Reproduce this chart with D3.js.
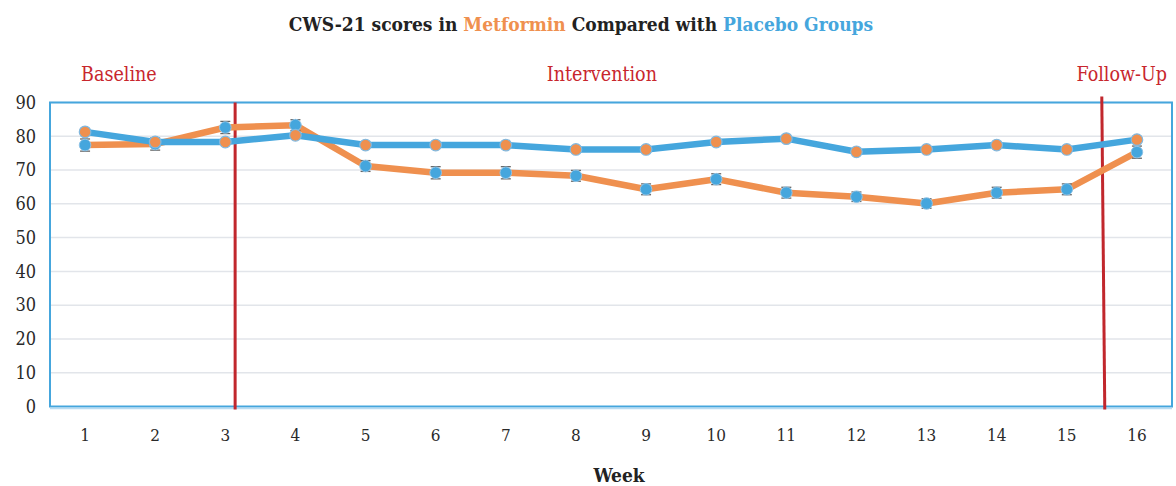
<!DOCTYPE html>
<html>
<head>
<meta charset="utf-8">
<script src="https://cdn.jsdelivr.net/npm/d3@7"></script>
<style>
  html, body { margin: 0; padding: 0; background: #fff; }
  svg { display: block; }
</style>
</head>
<body>
<svg id="chart" width="1176" height="486"></svg>
<script>
// Weeks on the x axis
const weeks = [1, 2, 3, 4, 5, 6, 7, 8, 9, 10, 11, 12, 13, 14, 15, 16];
// CWS-21 mean scores per week
const placebo   = [81.3, 78.3, 78.3, 80.3, 77.4, 77.4, 77.4, 76.1, 76.1, 78.3, 79.3, 75.4, 76.1, 77.4, 76.1, 79.0];
const metformin = [77.4, 77.7, 82.6, 83.3, 71.2, 69.2, 69.2, 68.3, 64.3, 67.3, 63.3, 62.1, 60.1, 63.3, 64.3, 75.3];
// Error (± score units) for the metformin group
const metforminErr = [1.8, 1.8, 1.8, 1.6, 1.6, 1.8, 1.8, 1.6, 1.6, 1.6, 1.6, 1.4, 1.4, 1.6, 1.6, 1.8];
const yTicks = [0, 10, 20, 30, 40, 50, 60, 70, 80, 90];
// Study phase labels and the week positions of the phase boundaries
const phases = [
  { label: "Baseline", week: 1, anchor: "start" },
  { label: "Intervention", week: 8.37, anchor: "middle" },
  { label: "Follow-Up", week: 16.3, anchor: "end" }
];
const boundaries = [3.14, 15.52];

const ORANGE = "#ef904f";
const BLUE = "#45a6dd";
const RED = "#c1272d";
const SERIF = "'DejaVu Serif Condensed', 'Liberation Serif', serif";

const svg = d3.select("#chart");
const plotLeft = 50, plotRight = 1172, plotTop = 102.5, plotBottom = 406.5;

const x = d3.scaleBand().domain(weeks).range([plotLeft, plotRight]).padding(0);
const cx = w => x(w) + x.bandwidth() / 2;
const xc = d3.scaleLinear().domain([1, 16]).range([cx(1), cx(16)]);
const y = d3.scaleLinear().domain([0, 90]).range([plotBottom, plotTop]);

// Title with coloured group names
const title = svg.append("text")
  .attr("x", 581).attr("y", 31)
  .attr("text-anchor", "middle")
  .style("font-family", SERIF)
  .style("font-weight", "bold")
  .style("font-size", "19px")
  .attr("fill", "#222");
title.append("tspan").text("CWS-21 scores in ");
title.append("tspan").attr("fill", ORANGE).text("Metformin");
title.append("tspan").text(" Compared with ");
title.append("tspan").attr("fill", BLUE).text("Placebo Groups");

// Phase labels
svg.selectAll("text.phase").data(phases).enter().append("text")
  .attr("class", "phase")
  .attr("x", d => d.anchor === "start" ? xc(d.week) - 4 : d.anchor === "end" ? xc(d.week) + 9 : xc(d.week))
  .attr("y", 81)
  .attr("text-anchor", d => d.anchor)
  .style("font-family", SERIF)
  .style("font-size", "19.5px")
  .attr("fill", "#c8262d")
  .text(d => d.label);

// Horizontal gridlines
svg.append("g").selectAll("line").data(yTicks.slice(1)).enter().append("line")
  .attr("x1", plotLeft).attr("x2", plotRight)
  .attr("y1", d => y(d)).attr("y2", d => y(d))
  .attr("stroke", "#e2e5ea").attr("stroke-width", 1.5);

// Y axis
const yAxis = svg.append("g")
  .attr("transform", `translate(${plotLeft},0)`)
  .call(d3.axisLeft(y).tickValues(yTicks).tickSize(0).tickPadding(14));
yAxis.select(".domain").remove();
yAxis.selectAll("text")
  .style("font-family", SERIF).style("font-size", "18px").attr("fill", "#2a2a2a");

// X axis labels
const xAxis = svg.append("g")
  .attr("transform", `translate(0,${plotBottom})`)
  .call(d3.axisBottom(x).tickSize(0).tickPadding(22));
xAxis.select(".domain").remove();
xAxis.selectAll("text")
  .style("font-family", SERIF).style("font-size", "17px").attr("fill", "#2a2a2a");

// Plot frame
svg.append("rect")
  .attr("x", plotLeft).attr("y", plotTop)
  .attr("width", plotRight - plotLeft).attr("height", plotBottom - plotTop)
  .attr("fill", "none").attr("stroke", BLUE).attr("stroke-width", 2);
svg.append("line")
  .attr("x1", plotLeft).attr("x2", plotRight)
  .attr("y1", plotBottom + 2).attr("y2", plotBottom + 2)
  .attr("stroke", "#b9dcf2").attr("stroke-width", 1.5);

// X axis title
svg.append("text")
  .attr("x", 619).attr("y", 482)
  .attr("text-anchor", "middle")
  .style("font-family", SERIF).style("font-weight", "bold").style("font-size", "19px")
  .attr("fill", "#222")
  .text("Week");

// Phase boundaries
svg.append("line")
  .attr("x1", xc(boundaries[0])).attr("x2", xc(boundaries[0]))
  .attr("y1", plotTop).attr("y2", plotBottom + 3)
  .attr("stroke", RED).attr("stroke-width", 3);
svg.append("line")
  .attr("x1", xc(boundaries[1]) - 1.5).attr("x2", xc(boundaries[1]) + 1.5)
  .attr("y1", plotTop - 6).attr("y2", plotBottom + 3)
  .attr("stroke", RED).attr("stroke-width", 3);

const line = d3.line().x((d, i) => cx(weeks[i])).y(d => y(d));

// Metformin series: orange line, error bars, blue markers
svg.append("path").datum(metformin)
  .attr("d", line).attr("fill", "none")
  .attr("stroke", ORANGE).attr("stroke-width", 6.5).attr("stroke-linejoin", "round");

const eb = svg.append("g").selectAll("g").data(metformin).enter().append("g")
  .attr("stroke", "#666").attr("stroke-width", 1.3);
eb.append("line")
  .attr("x1", (d, i) => cx(weeks[i])).attr("x2", (d, i) => cx(weeks[i]))
  .attr("y1", (d, i) => y(d + metforminErr[i])).attr("y2", (d, i) => y(d - metforminErr[i]));
eb.append("line")
  .attr("x1", (d, i) => cx(weeks[i]) - 5).attr("x2", (d, i) => cx(weeks[i]) + 5)
  .attr("y1", (d, i) => y(d + metforminErr[i])).attr("y2", (d, i) => y(d + metforminErr[i]));
eb.append("line")
  .attr("x1", (d, i) => cx(weeks[i]) - 5).attr("x2", (d, i) => cx(weeks[i]) + 5)
  .attr("y1", (d, i) => y(d - metforminErr[i])).attr("y2", (d, i) => y(d - metforminErr[i]));

svg.append("g").selectAll("circle").data(metformin).enter().append("circle")
  .attr("cx", (d, i) => cx(weeks[i])).attr("cy", d => y(d)).attr("r", 5.8)
  .attr("fill", BLUE).attr("stroke", "#8fc3e6").attr("stroke-width", 1);

// Placebo series: blue line, orange markers
svg.append("path").datum(placebo)
  .attr("d", line).attr("fill", "none")
  .attr("stroke", BLUE).attr("stroke-width", 6.5).attr("stroke-linejoin", "round");

svg.append("g").selectAll("circle").data(placebo).enter().append("circle")
  .attr("cx", (d, i) => cx(weeks[i])).attr("cy", d => y(d)).attr("r", 5.8)
  .attr("fill", ORANGE).attr("stroke", "#7fb8e0").attr("stroke-width", 1.2);
</script>
</body>
</html>
